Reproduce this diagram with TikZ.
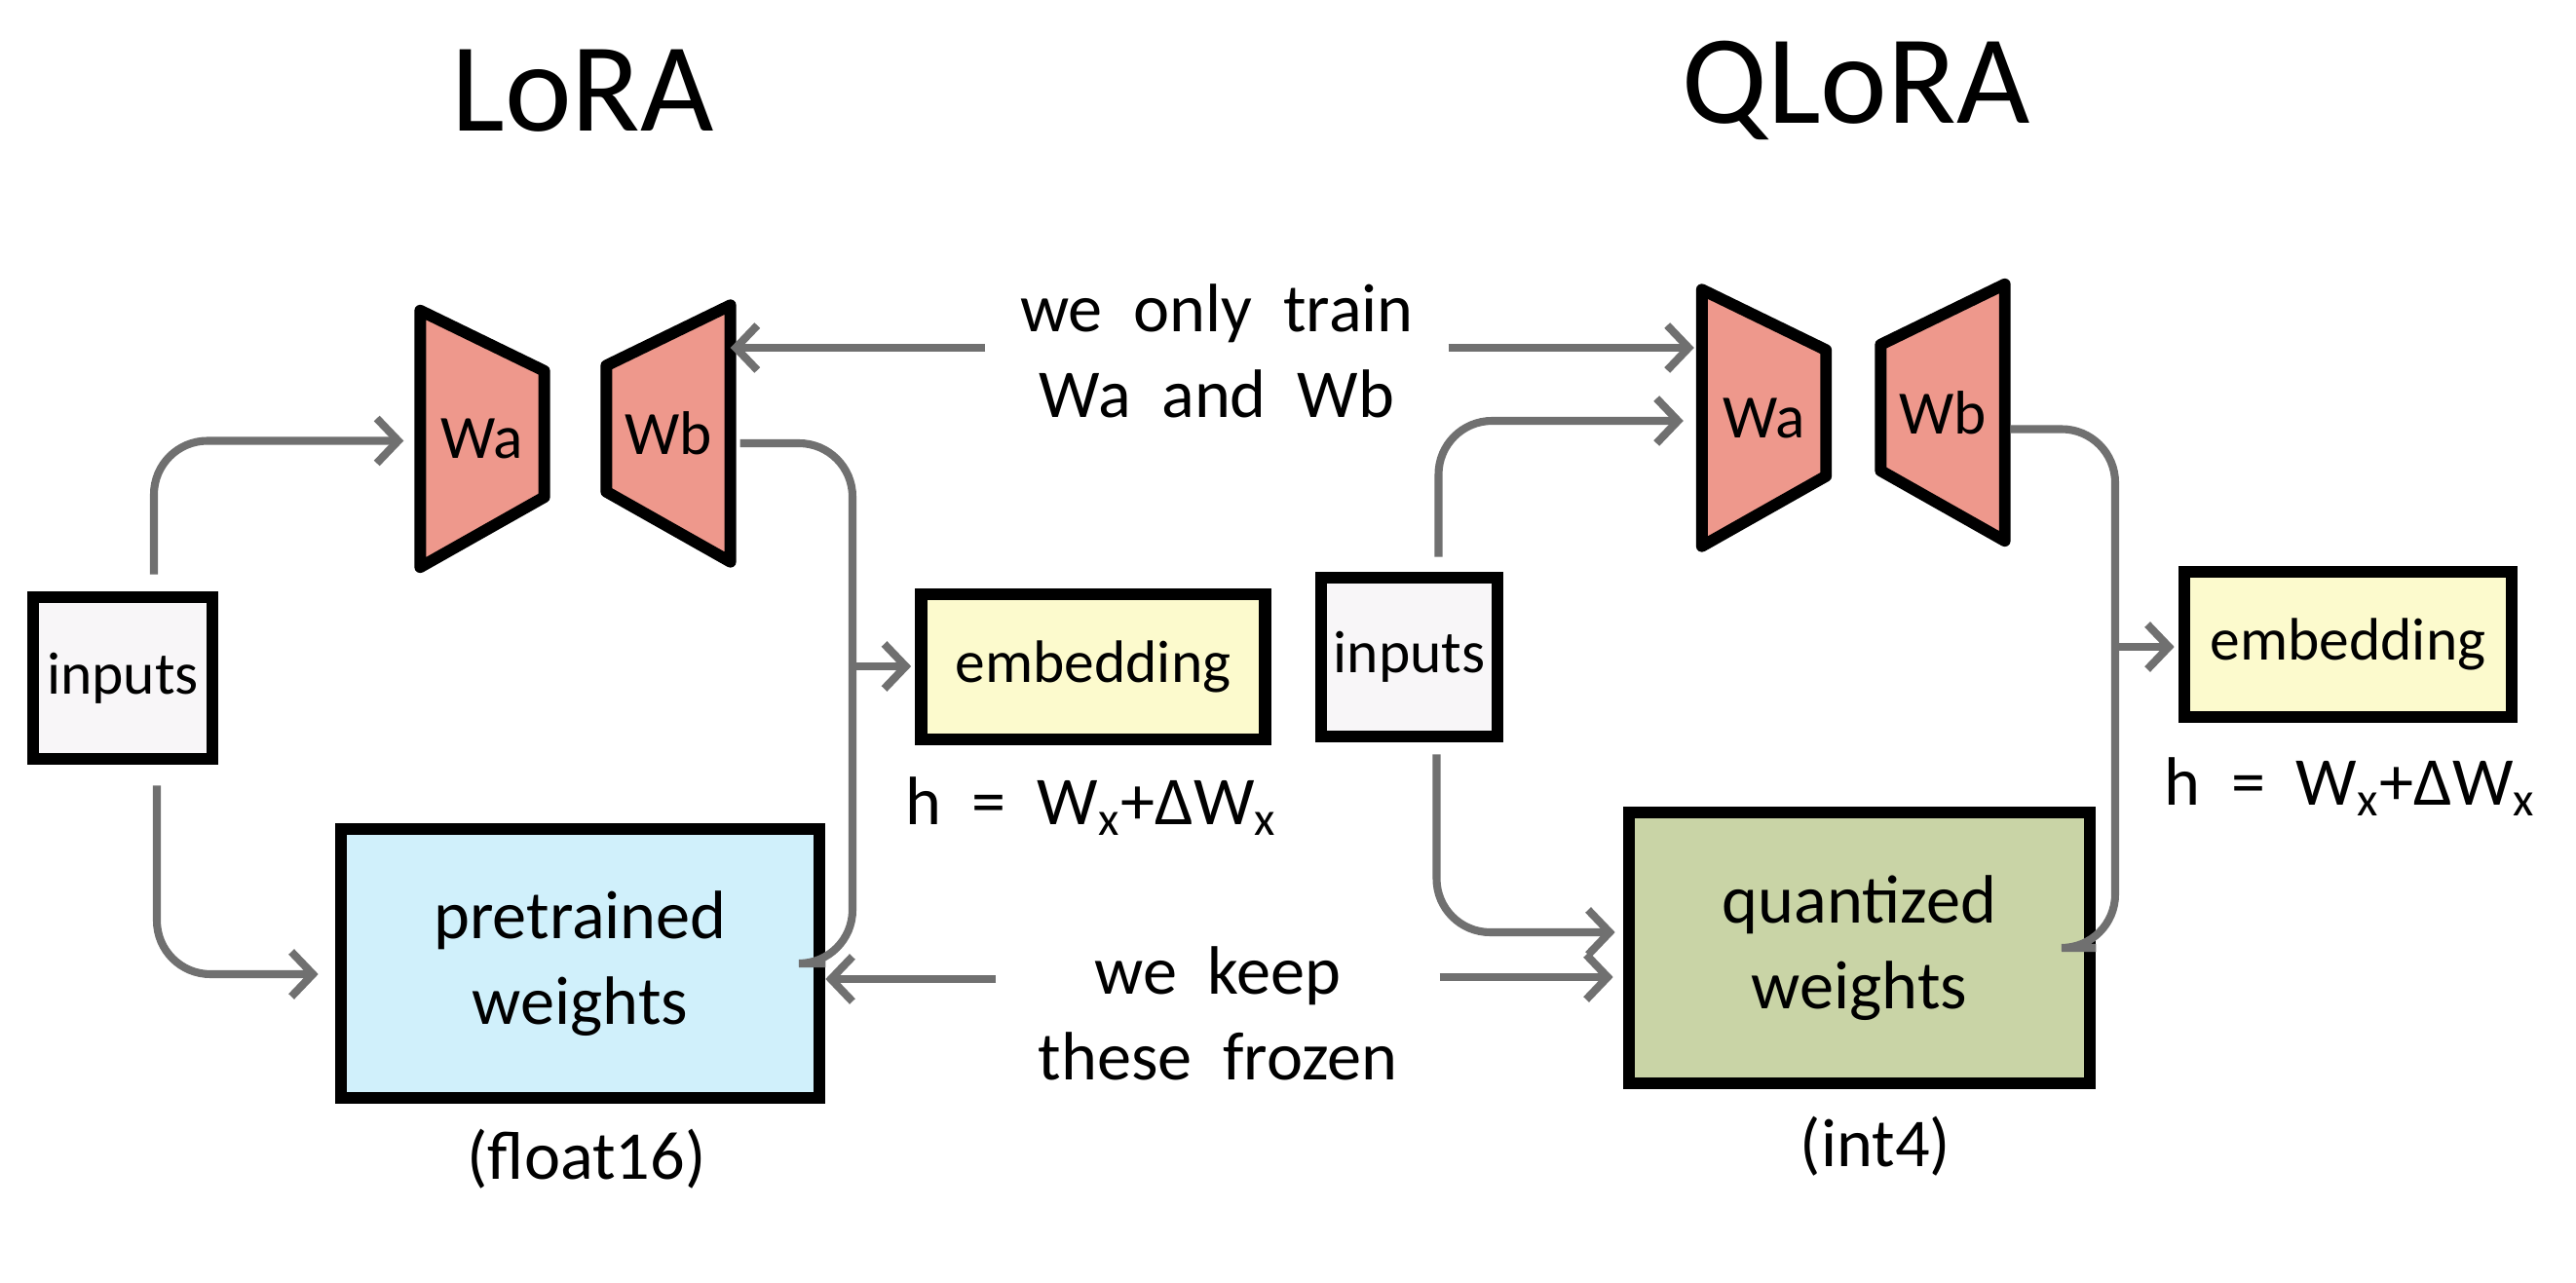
\documentclass[tikz,border=0pt]{standalone}
\usepackage{fontspec}
\setmainfont{Carlito}
\usepackage{xcolor}
\usetikzlibrary{arrows.meta,backgrounds}

\definecolor{wred}{RGB}{238,152,140}
\definecolor{preblue}{RGB}{208,240,251}
\definecolor{embyellow}{RGB}{252,250,205}
\definecolor{quantgreen}{RGB}{201,212,166}
\definecolor{ingrey}{RGB}{248,246,248}
\definecolor{arrowgrey}{RGB}{112,112,112}

\begin{document}
\begin{tikzpicture}[
  box/.style={draw, line width=3.6pt, inner sep=0pt, align=center, font=\fontsize{20}{25}\selectfont},
  smallbox/.style={box, font=\fontsize{17.5}{21}\selectfont},
  trap/.style={minimum width=1.26cm, minimum height=2.62cm, inner sep=0pt, font=\fontsize{18}{20}\selectfont},
  trapline/.style={draw, fill=wred, line width=3.4pt, line join=round},
  txt/.style={inner sep=0pt, align=center, font=\fontsize{20}{25}\selectfont},
  title/.style={inner sep=0pt, font=\fontsize{37}{40}\selectfont},
  wire/.style={draw=arrowgrey, line width=2.3pt, rounded corners=0.55cm},
  flow/.style={wire, -{Straight Barb[length=2.2mm,width=4.6mm]}}
]
\useasboundingbox (0,0) rectangle (26.44,13.16);

\node[title] (ltitle) at (5.98,12.23) {LoRA};
\node[title] (qtitle) at (19.05,12.23) {QLoRA};

% LoRA
\node[trap] (lwa) at (4.95,8.655) {Wa};
\node[trap] (lwb) at (6.86,8.71) {Wb};
\node[smallbox, fill=ingrey, minimum width=1.84cm, minimum height=1.66cm] (lin) at (1.26,6.20) {inputs};
\node[box, fill=preblue, minimum width=4.91cm, minimum height=2.76cm] (lpre) at (5.955,3.27) {pretrained\\weights};
\node[smallbox, fill=embyellow, minimum width=3.53cm, minimum height=1.49cm] (lemb) at (11.22,6.315) {embedding};
\node[txt] (lh) at (11.20,4.88) {h \ = \ W\textsubscript{x}+ΔW\textsubscript{x}};
\node[txt] (lfp) at (6.02,1.26) {(float16)};

% QLoRA
\node[trap] (qwa) at (18.105,8.87) {Wa};
\node[trap] (qwb) at (19.94,8.925) {Wb};
\node[smallbox, fill=ingrey, minimum width=1.81cm, minimum height=1.63cm] (qin) at (14.465,6.415) {inputs};
\node[box, fill=quantgreen, minimum width=4.73cm, minimum height=2.78cm] (qquant) at (19.085,3.43) {quantized\\weights};
\node[smallbox, fill=embyellow, minimum width=3.36cm, minimum height=1.49cm] (qemb) at (24.10,6.545) {embedding};
\node[txt] (qh) at (24.12,5.08) {h \ = \ W\textsubscript{x}+ΔW\textsubscript{x}};
\node[txt] (qint) at (19.25,1.39) {(int4)};

% middle notes
\node[txt, minimum width=4.74cm] (train) at (12.49,9.56) {we \ only \ train\\Wa \ and \ Wb};
\node[txt, minimum width=4.54cm] (frozen) at (12.50,2.76) {we \ keep\\these \ frozen};

\begin{scope}[on background layer]
\draw[trapline] (lwa.north west) -- ([yshift=-6.2mm]lwa.north east) -- ([yshift=7.2mm]lwa.south east) -- (lwa.south west) -- cycle;
\draw[trapline] ([yshift=-6.2mm]lwb.north west) -- (lwb.north east) -- (lwb.south east) -- ([yshift=7.2mm]lwb.south west) -- cycle;
\draw[trapline] (qwa.north west) -- ([yshift=-6.2mm]qwa.north east) -- ([yshift=7.2mm]qwa.south east) -- (qwa.south west) -- cycle;
\draw[trapline] ([yshift=-6.2mm]qwb.north west) -- (qwb.north east) -- (qwb.south east) -- ([yshift=7.2mm]qwb.south west) -- cycle;
\end{scope}

\coordinate (lbus) at (8.75,6.32);
\coordinate (qbus) at (21.71,6.52);

\draw[flow, shorten >=1.7mm] ([xshift=3.2mm,yshift=1.7mm]lin.north) |- ([yshift=-0.2mm]lwa.west);
\draw[flow, shorten >=1.7mm] ([xshift=3.5mm,yshift=-2.1mm]lin.south) |- ([yshift=-1.1mm]lpre.west);
\draw[wire, shorten <=1mm] ([yshift=-1mm]lwb.east) -| (lbus) |- (lpre.east);
\draw[flow, shorten >=0.4mm] (lbus) -- (lbus -| lemb.west);

\draw[flow, shorten >=1.9mm] ([xshift=3mm,yshift=1.5mm]qin.north) |- ([yshift=-0.3mm]qwa.west);
\draw[flow, shorten >=0.8mm] ([xshift=2.8mm,yshift=-1.2mm]qin.south) |- ([yshift=1.6mm]qquant.west);
\draw[wire, shorten <=0.6mm] ([yshift=-1.7mm]qwb.east) -| (qbus) |- (qquant.east);
\draw[flow, shorten >=0.4mm] (qbus) -- (qbus -| qemb.west);

\draw[flow] ([yshift=0.3mm]train.west) -- ([yshift=0.3mm]train.west -| lwb.east);
\draw[flow, shorten >=0.8mm] ([yshift=0.3mm]train.east) -- ([yshift=0.3mm]train.east -| qwa.west);
\draw[flow] ([yshift=3.5mm]frozen.west) -- ([yshift=3.5mm]frozen.west -| lpre.east);
\draw[flow, shorten >=1mm] ([yshift=3.7mm]frozen.east) -- ([yshift=3.7mm]frozen.east -| qquant.west);
\end{tikzpicture}
\end{document}
